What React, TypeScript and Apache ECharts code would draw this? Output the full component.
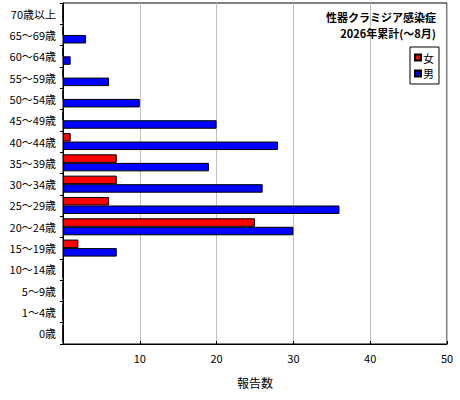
import { useEffect, useRef } from 'react';
import * as echarts from 'echarts';

const ageGroups = [
  '0歳', '1～4歳', '5～9歳', '10～14歳', '15～19歳', '20～24歳', '25～29歳', '30～34歳',
  '35～39歳', '40～44歳', '45～49歳', '50～54歳', '55～59歳', '60～64歳', '65～69歳', '70歳以上',
];
const female = [0, 0, 0, 0, 2, 25, 6, 7, 7, 1, 0, 0, 0, 0, 0, 0];
const male = [0, 0, 0, 0, 7, 30, 36, 26, 19, 28, 20, 10, 6, 1, 3, 0];
const seriesNames = ['女', '男'];
const titleLines = ['性器クラミジア感染症', '2026年累計(～8月)'];
const axisTitle = '報告数';

const FONT = '"Noto Sans CJK JP", "DejaVu Sans", sans-serif';

export default function App() {
  const chartRef = useRef<HTMLDivElement>(null);

  useEffect(() => {
    if (!chartRef.current) return;
    const chart = echarts.init(chartRef.current, null, { renderer: 'svg' });

    const option: echarts.EChartsOption = {
      animation: false,
      backgroundColor: '#fff',
      textStyle: { fontFamily: FONT, color: '#000' },
      // two-line title, right aligned
      graphic: titleLines.map((line, i) => ({
        type: 'text',
        right: 24,
        top: 11 + i * 16,
        z: 10,
        style: {
          text: line,
          fontFamily: FONT,
          fontSize: 11,
          fontWeight: 'bold',
          fill: '#000',
        },
      })),
      legend: {
        orient: 'vertical',
        left: 410,
        top: 47,
        data: seriesNames,
        icon: 'rect',
        itemWidth: 6,
        itemHeight: 6,
        itemGap: 5,
        padding: [5, 5, 5, 4],
        borderColor: '#000',
        borderWidth: 1,
        backgroundColor: '#fff',
        textStyle: { fontFamily: FONT, fontSize: 11, color: '#000', padding: [0, 0, 0, -3] },
      },
      grid: {
        left: 63,
        right: 13,
        top: 3,
        bottom: 56,
        show: true,
        borderColor: '#000',
        borderWidth: 1,
        backgroundColor: '#fff',
      },
      xAxis: {
        type: 'value',
        min: 0,
        max: 50,
        interval: 10,
        name: axisTitle,
        nameLocation: 'middle',
        nameGap: 32,
        nameTextStyle: { fontFamily: FONT, fontSize: 12, color: '#000' },
        axisLine: { show: true, lineStyle: { color: '#000' } },
        axisTick: { show: true, inside: true, length: 3, lineStyle: { color: '#000' } },
        axisLabel: {
          fontFamily: FONT,
          fontSize: 11,
          color: '#000',
          margin: 8,
          formatter: (v: number) => (v === 0 ? '' : String(v)),
        },
        splitLine: { show: true, lineStyle: { color: '#c0c0c0' } },
      },
      yAxis: {
        type: 'category',
        data: ageGroups,
        axisLine: { show: true, lineStyle: { color: '#000' } },
        axisTick: { show: true, length: 3, lineStyle: { color: '#000' } },
        axisLabel: { fontFamily: FONT, fontSize: 11, color: '#000', margin: 7 },
        splitLine: { show: false },
      },
      series: [
        {
          name: seriesNames[0],
          type: 'bar',
          data: female,
          barGap: '0%',
          barCategoryGap: '20%',
          itemStyle: { color: '#ff0000', borderColor: '#000', borderWidth: 1 },
        },
        {
          name: seriesNames[1],
          type: 'bar',
          data: male,
          barGap: '0%',
          barCategoryGap: '20%',
          itemStyle: { color: '#0000ff', borderColor: '#000', borderWidth: 1 },
        },
      ],
    };

    chart.setOption(option);
    return () => {
      chart.dispose();
    };
  }, []);

  return (
    <div
      ref={chartRef}
      style={{ position: 'fixed', left: 0, top: 0, width: 460, height: 400 }}
    />
  );
}
